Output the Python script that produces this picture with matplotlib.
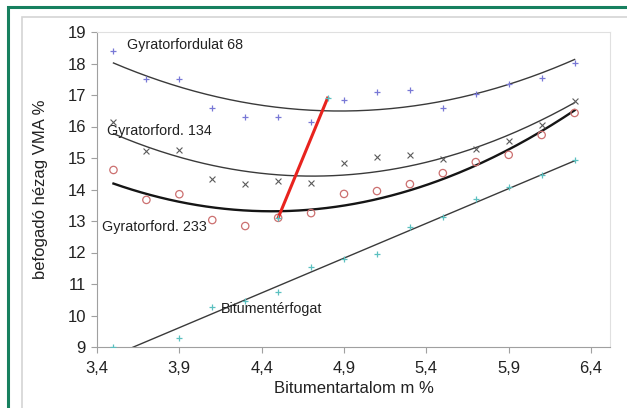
"""VMA vs. bitumen content at three gyratory compaction levels."""

import matplotlib

matplotlib.use("Agg")

import matplotlib.pyplot as plt
import numpy as np
from matplotlib.patches import Rectangle

plt.rcParams["font.family"] = ["Liberation Sans", "DejaVu Sans"]

# bitumen content (m %)
bit = [3.5, 3.7, 3.9, 4.1, 4.3, 4.5, 4.7, 4.9, 5.1, 5.3, 5.5, 5.7, 5.9, 6.1, 6.3]

vma_68 = [18.4, 17.5, 17.5, 16.6, 16.3, 16.3, 16.15, 16.85, 17.1, 17.15,
          16.6, 17.03, 17.35, 17.55, 18.03]
vma_134 = [16.15, 15.22, 15.25, 14.33, 14.17, 14.27, 14.2, 14.84, 15.03, 15.08,
           14.97, 15.29, 15.55, 16.05, 16.8]
vma_233 = [14.62, 13.67, 13.85, 13.03, 12.84, 13.1, 13.25, 13.86, 13.95, 14.17,
           14.52, 14.87, 15.1, 15.73, 16.43]

# bitumen volume (3.7 falls below the axis)
bit_vol_x = [3.5, 3.9, 4.1, 4.3, 4.5, 4.7, 4.9, 5.1, 5.3, 5.5, 5.7, 5.9, 6.1, 6.3]
bit_vol = [9.0, 9.28, 10.27, 10.45, 10.75, 11.54, 11.79, 11.95, 12.81, 13.13,
           13.7, 14.08, 14.46, 14.94]

# optimum line (red) between the 233 and 68 curves
opt_x = [4.5, 4.8]
opt_y = [13.1, 16.9]

fig = plt.figure(figsize=(6.27, 4.08), dpi=100)

# outer frames
fig.patches.append(Rectangle((22 / 627, -0.1), 1.2, 1 - 17 / 408 + 0.1,
                             transform=fig.transFigure, fill=False,
                             edgecolor="#d4d4d4", linewidth=1.2))
fig.patches.append(Rectangle((8 / 627, -0.1), 1.2, 1 - 7 / 408 + 0.1,
                             transform=fig.transFigure, fill=False,
                             edgecolor="#17805f", linewidth=2.2))

ax = fig.add_axes([97 / 627, 1 - 347 / 408, (610 - 97) / 627, (347 - 32) / 408])

xs = np.linspace(3.5, 6.3, 200)
for y, lw in ((vma_68, 1.0), (vma_134, 1.0), (vma_233, 1.7)):
    c = np.polyfit(bit, y, 2)
    ax.plot(xs, np.polyval(c, xs), color="#3a3a3a" if lw < 1.5 else "#151515",
            linewidth=lw, zorder=2)
c = np.polyfit(bit_vol_x, bit_vol, 1)
ax.plot(xs, np.polyval(c, xs), color="#3a3a3a", linewidth=1.0, zorder=2)

ax.scatter(bit, vma_68, marker="+", s=22, color="#7878d6", linewidths=0.9, zorder=3)
ax.scatter(bit, vma_134, marker="x", s=18, color="#5a5a5a", linewidths=0.8, zorder=3)
ax.scatter(bit, vma_233, marker="o", s=28, facecolors="none",
           edgecolors="#cc7070", linewidths=0.9, zorder=3)
ax.scatter(bit_vol_x, bit_vol, marker="+", s=14, color="#5cc0c0",
           linewidths=0.9, zorder=3)

ax.plot(opt_x, opt_y, color="#e8231e", linewidth=2.2, zorder=4)
ax.scatter(opt_x, opt_y, marker="+", s=14, color="#5cc0c0", linewidths=0.9, zorder=5)

fs_note = 10.3
ax.text(3.582, 18.59, "Gyratorfordulat 68", fontsize=fs_note, va="center", color="#222222")
ax.text(3.46, 15.86, "Gyratorford. 134", fontsize=fs_note, va="center", color="#222222")
ax.text(3.43, 12.81, "Gyratorford. 233", fontsize=fs_note, va="center", color="#222222")
ax.text(4.153, 10.21, "Bitumentérfogat", fontsize=fs_note, va="center", color="#222222")

ax.set_xlim(3.4, 6.515)
ax.set_ylim(9, 19)
xt = [3.4, 3.9, 4.4, 4.9, 5.4, 5.9, 6.4]
ax.set_xticks(xt)
ax.set_xticklabels([f"{v:.1f}".replace(".", ",") for v in xt])
ax.set_yticks(range(9, 20))
ax.tick_params(direction="out", length=4, color="#a0a0a0", labelsize=12,
               labelcolor="#222222", pad=4)
ax.tick_params(axis="x", pad=6)
for side in ("left", "bottom"):
    ax.spines[side].set_color("#a0a0a0")
for side in ("top", "right"):
    ax.spines[side].set_color("#e0e0e0")

ax.set_xlabel("Bitumentartalom m %", fontsize=12, color="#222222", labelpad=4)
ax.set_ylabel("befogadó hézag VMA %", fontsize=12, color="#222222", labelpad=14)

fig.savefig("out.png", dpi=100)
